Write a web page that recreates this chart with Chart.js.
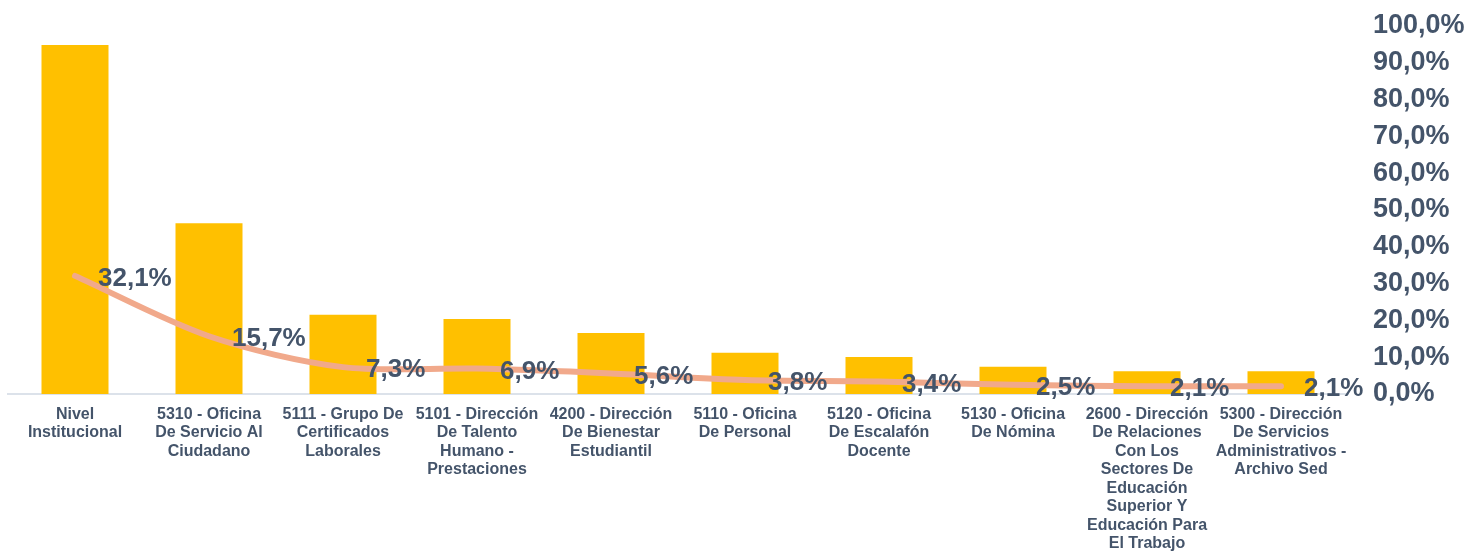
<!DOCTYPE html>
<html>
<head>
<meta charset="utf-8">
<script src="https://cdn.jsdelivr.net/npm/chart.js@4/dist/chart.umd.min.js"></script>
<style>
  html, body { margin: 0; padding: 0; background: #fff; }
  #wrap { width: 1469px; height: 555px; position: relative; }
</style>
</head>
<body>
<div id="wrap"><canvas id="chart"></canvas></div>
<script>
// === Datos ===
const categorias = [
  ['Nivel', 'Institucional'],
  ['5310 - Oficina', 'De Servicio Al', 'Ciudadano'],
  ['5111 - Grupo De', 'Certificados', 'Laborales'],
  ['5101 - Dirección', 'De Talento', 'Humano -', 'Prestaciones'],
  ['4200 - Dirección', 'De Bienestar', 'Estudiantil'],
  ['5110 - Oficina', 'De Personal'],
  ['5120 - Oficina', 'De Escalafón', 'Docente'],
  ['5130 - Oficina', 'De Nómina'],
  ['2600 - Dirección', 'De Relaciones', 'Con Los', 'Sectores De', 'Educación', 'Superior Y', 'Educación Para', 'El Trabajo'],
  ['5300 - Dirección', 'De Servicios', 'Administrativos -', 'Archivo Sed'],
];
const barras = [32.1, 15.7, 7.3, 6.9, 5.6, 3.8, 3.4, 2.5, 2.1, 2.1];
const porcentajes = [32.1, 15.7, 7.3, 6.9, 5.6, 3.8, 3.4, 2.5, 2.1, 2.1];
const ticksPct = [0, 10, 20, 30, 40, 50, 60, 70, 80, 90, 100];

const TEXT = '#44546A';
const FONT = '"Liberation Sans", Arial, sans-serif';
const fmt = v => v.toFixed(1).replace('.', ',') + '%';

// labels to the right of each line point
const etiquetas = {
  id: 'etiquetas',
  afterDatasetsDraw(chart) {
    const meta = chart.getDatasetMeta(1);
    const ctx = chart.ctx;
    ctx.save();
    ctx.font = 'bold 26px ' + FONT;
    ctx.fillStyle = TEXT;
    ctx.textAlign = 'left';
    ctx.textBaseline = 'middle';
    meta.data.forEach((pt, i) => {
      ctx.fillText(fmt(porcentajes[i]), pt.x + 23, pt.y + 3);
    });
    ctx.restore();
  }
};

new Chart(document.getElementById('chart'), {
  data: {
    labels: categorias,
    datasets: [
      {
        type: 'bar',
        data: barras,
        backgroundColor: '#FFC000',
        barPercentage: 0.5,
        categoryPercentage: 1,
        yAxisID: 'y',
        order: 2,
      },
      {
        type: 'line',
        data: porcentajes,
        borderColor: '#F1A98B',
        borderWidth: 6,
        borderCapStyle: 'round',
        pointRadius: 0,
        tension: 0.3,
        yAxisID: 'y1',
        order: 1,
      },
    ]
  },
  options: {
    responsive: true,
    maintainAspectRatio: false,
    animation: false,
    layout: { padding: { left: 8, right: 0, top: 0, bottom: 0 } },
    plugins: { legend: { display: false }, tooltip: { enabled: false } },
    scales: {
      x: {
        grid: { display: false, drawTicks: false },
        border: { color: '#DCE2EA', width: 2 },
        afterFit: axis => { axis.height = 161; },
        ticks: {
          color: TEXT,
          font: { family: FONT, size: 16, weight: 'bold', lineHeight: 1.156 },
          maxRotation: 0,
          autoSkip: false,
          padding: 11,
        },
      },
      y: {
        display: false,
        min: 0,
        max: 33.85,
      },
      y1: {
        position: 'right',
        min: 0,
        max: 100,
        grid: { display: false, drawTicks: false },
        border: { display: false },
        afterBuildTicks: axis => { axis.ticks = ticksPct.map(v => ({ value: v })); },
        afterFit: axis => { axis.width = 121; axis.paddingTop = 26; axis.paddingBottom = 0; },
        ticks: {
          color: TEXT,
          autoSkip: false,
          font: { family: FONT, size: 27, weight: 'bold' },
          padding: 25,
          callback: v => fmt(v),
        },
      },
    }
  },
  plugins: [etiquetas]
});
</script>
</body>
</html>
